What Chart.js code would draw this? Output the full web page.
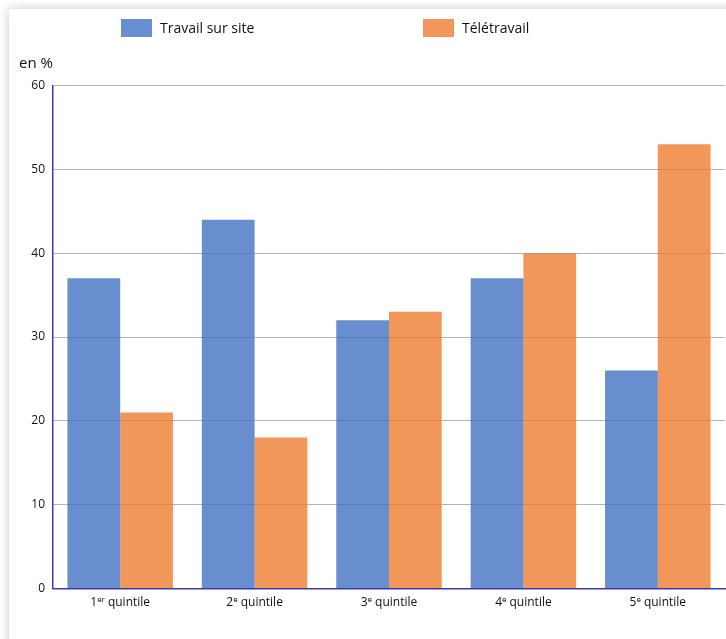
<!DOCTYPE html>
<html lang="fr">
<head>
<meta charset="utf-8">
<script src="https://cdn.jsdelivr.net/npm/chart.js@4"></script>
<style>
  html, body { margin:0; padding:0; background:#ffffff; width:726px; height:639px; overflow:hidden; }
  #card { position:absolute; left:9px; top:9px; width:800px; height:700px; background:#fff; box-shadow:0 0 10px rgba(0,0,0,0.22); }
  #wrap { position:absolute; left:0; top:0; width:726px; height:639px; }
</style>
</head>
<body>
<div id="card"></div>
<div id="wrap"><canvas id="c" width="726" height="639"></canvas></div>
<script>
const categories = ['1ᵉʳ quintile', '2ᵉ quintile', '3ᵉ quintile', '4ᵉ quintile', '5ᵉ quintile'];
const seriesNames = ['Travail sur site', 'Télétravail'];
const travailSurSite = [37, 44, 32, 37, 26];
const teletravail = [21, 18, 33, 40, 53];
const yTicks = [0, 10, 20, 30, 40, 50, 60];
const unitLabel = 'en %';

const FONT = "'Open Sans', 'Noto Sans', sans-serif";

const overlay = {
  id: 'overlay',
  afterDraw(chart) {
    const ctx = chart.ctx;
    ctx.save();
    ctx.textBaseline = 'middle';
    ctx.textAlign = 'left';
    ctx.font = '14px ' + FONT;
    const items = [
      { x: 121, ds: chart.data.datasets[0] },
      { x: 423, ds: chart.data.datasets[1] }
    ];
    items.forEach(it => {
      ctx.fillStyle = it.ds.backgroundColor;
      ctx.fillRect(it.x, 19, 31, 18);
      ctx.fillStyle = '#111';
      ctx.fillText(it.ds.label, it.x + 39, 29);
    });
    ctx.font = '15px ' + FONT;
    ctx.fillText(unitLabel, 19, 64);
    ctx.restore();
  }
};

new Chart(document.getElementById('c'), {
  type: 'bar',
  data: {
    labels: categories,
    datasets: [
      { label: seriesNames[0], data: travailSurSite, backgroundColor: 'rgba(68,114,196,0.8)', borderWidth: 0 },
      { label: seriesNames[1], data: teletravail, backgroundColor: 'rgba(237,125,49,0.8)', borderWidth: 0 }
    ]
  },
  options: {
    responsive: false,
    animation: false,
    devicePixelRatio: 1,
    layout: { padding: { top: 85.5, right: 1, bottom: 0, left: 0 } },
    plugins: { legend: { display: false }, tooltip: { enabled: false } },
    datasets: { bar: { categoryPercentage: 0.785, barPercentage: 1.0 } },
    scales: {
      x: {
        grid: { display: true, color: 'transparent', drawTicks: false },
        border: { display: true, color: '#3b3bb0', width: 1.5 },
        ticks: { color: '#111', font: { family: FONT, size: 12 }, padding: 7, maxRotation: 0 },
        afterFit(s) { s.height = 50.5; }
      },
      y: {
        min: 0, max: 60,
        afterBuildTicks(s) { s.ticks = yTicks.map(v => ({ value: v })); },
        grid: { color: ctx => ctx.tick && ctx.tick.value === 0 ? 'transparent' : '#b4b4b4', drawTicks: false, lineWidth: 1 },
        border: { display: true, color: '#3b3bb0', width: 1.5 },
        ticks: { color: '#111', font: { family: FONT, size: 12 }, padding: 8 },
        afterFit(s) { s.width = 53; }
      }
    }
  },
  plugins: [overlay]
});
</script>
</body>
</html>
